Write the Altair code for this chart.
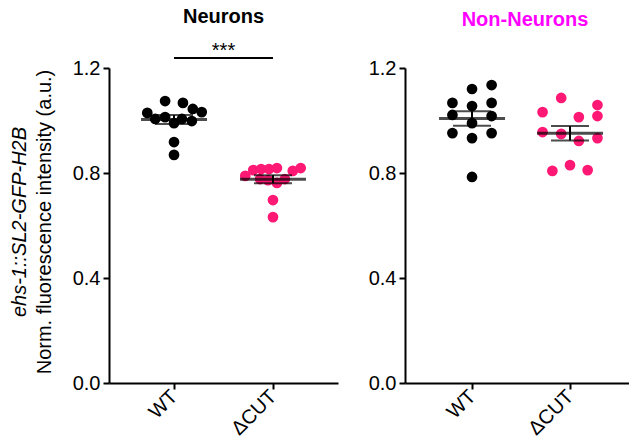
import altair as alt
import pandas as pd

groups = ["WT", "ΔCUT"]
colors = ["#000000", "#FF1975"]

# Neurons
neu_wt = [1.074, 1.067, 1.044, 1.032, 1.029, 1.013, 1.006, 1.006, 0.998, 0.990, 0.918, 0.869]
neu_wt_jit = [-0.09, 0.09, 0.19, 0.28, -0.27, -0.09, -0.19, 0.08, 0.18, 0.0, 0.0, 0.0]
neu_cut = [0.789, 0.811, 0.815, 0.815, 0.819, 0.808, 0.819, 0.777, 0.773, 0.762, 0.777, 0.697, 0.632]
neu_cut_jit = [-0.28, -0.20, -0.12, -0.04, 0.04, 0.20, 0.28, -0.13, -0.05, 0.04, 0.12, 0.0, 0.0]

# Non-Neurons
non_wt = [1.120, 1.135, 1.067, 1.055, 1.067, 1.021, 1.017, 0.990, 0.952, 0.933, 0.952, 0.785]
non_wt_jit = [0.0, 0.2, -0.2, 0.0, 0.2, -0.2, 0.2, 0.0, -0.2, 0.0, 0.2, 0.0]
non_cut = [1.086, 1.032, 1.059, 1.013, 1.017, 0.956, 0.949, 0.922, 0.933, 0.808, 0.830, 0.811]
non_cut_jit = [-0.09, -0.28, 0.28, 0.09, 0.28, -0.28, -0.09, 0.09, 0.28, -0.18, 0.0, 0.18]

y_ticks = [0.0, 0.4, 0.8, 1.2]
sig_label = "***"
ylab_italic = "ehs-1::SL2-GFP-H2B"
ylab_main = "Norm. fluorescence intensity (a.u.)"
FONT = "Liberation Sans"


def make_df(wt, wt_j, cut, cut_j):
    rows = []
    for v, j in zip(wt, wt_j):
        rows.append({"group": groups[0], "gi": 0, "value": v, "jit": j})
    for v, j in zip(cut, cut_j):
        rows.append({"group": groups[1], "gi": 1, "value": v, "jit": j})
    return pd.DataFrame(rows)


label_expr = f"datum.value == 0 ? '{groups[0]}' : '{groups[1]}'"


def panel(df, title, tcolor, width, xmin, xmax, toff, tdx, extra_layers=()):
    xs = alt.Scale(domain=[xmin, xmax], nice=False, zero=False)
    ys = alt.Scale(domain=[0, 1.2], nice=False)
    xaxis = alt.Axis(values=[0, 1], labelExpr=label_expr, labelAngle=315, labelAlign="right",
                     labelBaseline="middle", labelPadding=4, title=None)
    yaxis = alt.Axis(values=y_ticks, format=".1f", title=None)
    base = alt.Chart(df)
    dots = base.transform_calculate(pos="datum.gi + datum.jit").mark_circle(size=115, opacity=1).encode(
        x=alt.X("pos:Q", scale=xs, axis=xaxis),
        y=alt.Y("value:Q", scale=ys, axis=yaxis),
        color=alt.Color("group:N", scale=alt.Scale(domain=groups, range=colors), legend=None),
    )
    stats = base.transform_aggregate(
        mean="mean(value)", se="stderr(value)", groupby=["gi"]
    ).transform_calculate(lo="datum.mean - datum.se", hi="datum.mean + datum.se")
    mean_tick = stats.mark_tick(orient="horizontal", size=66, thickness=3, color="black").encode(
        x=alt.X("gi:Q", title=None), y=alt.Y("mean:Q", title=None)
    )
    err = stats.mark_rule(strokeWidth=2, color="black").encode(
        x=alt.X("gi:Q", title=None), y=alt.Y("lo:Q", title=None), y2="hi:Q"
    )
    cap_lo = stats.mark_tick(orient="horizontal", size=38, thickness=2, color="black").encode(
        x=alt.X("gi:Q", title=None), y=alt.Y("lo:Q", title=None)
    )
    cap_hi = stats.mark_tick(orient="horizontal", size=38, thickness=2, color="black").encode(
        x=alt.X("gi:Q", title=None), y=alt.Y("hi:Q", title=None)
    )
    layers = [dots, err, cap_lo, cap_hi, mean_tick] + list(extra_layers)
    return alt.layer(*layers).properties(
        width=width,
        height=315,
        title=alt.TitleParams(title, color=tcolor, fontSize=20, fontWeight="bold", font=FONT,
                              frame="group", offset=toff, dx=tdx),
    )


df_neu = make_df(neu_wt, neu_wt_jit, neu_cut, neu_cut_jit)
df_non = make_df(non_wt, non_wt_jit, non_cut, non_cut_jit)

sig_df = pd.DataFrame({"a": [0], "b": [1], "mid": [0.5], "label": [sig_label]})
sig_rule = alt.Chart(sig_df).mark_rule(strokeWidth=2, color="black").encode(
    x=alt.X("a:Q", title=None), x2="b:Q", y=alt.value(-10)
)
sig_text = alt.Chart(sig_df).mark_text(font=FONT, fontSize=20, color="black", baseline="alphabetic").encode(
    x=alt.X("mid:Q", title=None), y=alt.value(-11), text="label:N"
)
lab_df = pd.DataFrame({"t1": [ylab_italic], "t2": [ylab_main]})
lab1 = alt.Chart(lab_df).mark_text(font=FONT, fontSize=20, fontStyle="italic", angle=270,
                                   align="center", baseline="middle", color="black").encode(
    x=alt.value(-89), y=alt.value(154), text="t1:N")
lab2 = alt.Chart(lab_df).mark_text(font=FONT, fontSize=20, angle=270,
                                   align="center", baseline="middle", color="black").encode(
    x=alt.value(-64), y=alt.value(154), text="t2:N")

left = panel(df_neu, "Neurons", "black", 229, -0.657, 1.657, 14, 0, [sig_rule, sig_text, lab1, lab2])
right = panel(df_non, "Non-Neurons", "#FF00FF", 224, -0.684, 1.602, 28, 8)

chart = alt.hconcat(left, right, spacing=30).properties(
    padding={"left": 10, "top": 7, "right": 0, "bottom": 0}
).configure(background="white").configure_view(stroke=None).configure_axis(
    domainColor="black", domainWidth=2, tickColor="black", tickWidth=2, tickSize=6,
    labelFont=FONT, labelFontSize=20, labelColor="black", labelPadding=3, grid=False,
)

chart.save("out.html", embed_options={"renderer": "svg", "actions": False})
